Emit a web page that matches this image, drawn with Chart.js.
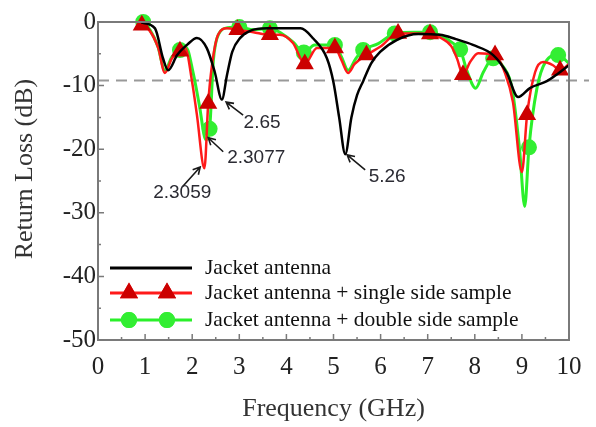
<!DOCTYPE html>
<html>
<head>
<meta charset="utf-8">
<script src="https://cdn.jsdelivr.net/npm/chart.js@4.4.0/dist/chart.umd.min.js"></script>
<style>
  html, body { margin: 0; padding: 0; background: #fff; }
  canvas { display: block; }
</style>
</head>
<body>
<canvas id="rl" width="596" height="427"></canvas>
<script>
// frequency in GHz, return loss in dB
const blackFreq = [0.92, 1.21, 1.38, 1.49, 1.68, 1.89, 2.1, 2.31, 2.48, 2.63, 2.74, 2.85, 3.02, 3.23, 3.6, 4.3, 4.57, 4.86, 5.0, 5.12, 5.25, 5.38, 5.5, 5.63, 5.8, 5.99, 6.35, 6.8, 7.26, 7.6, 7.96, 8.39, 8.68, 8.92, 9.17, 9.53, 9.75, 10.0];
const blackDb = [-0.1, -1.0, -5.7, -7.6, -5.2, -3.6, -2.5, -4.1, -7.9, -12.2, -8.3, -4.7, -2.5, -1.4, -1.0, -1.0, -2.6, -5.7, -9.5, -15, -20.8, -15, -11.5, -9.3, -6.5, -4.7, -2.8, -1.9, -2.0, -2.7, -3.6, -5.2, -8.0, -11.8, -10.4, -9.3, -8.2, -6.8];

const redFreq = [0.93, 1.08, 1.28, 1.42, 1.57, 1.74, 1.85, 2.0, 2.1, 2.26, 2.34, 2.42, 2.55, 2.74, 2.96, 3.3, 3.65, 3.86, 4.14, 4.39, 4.65, 5.03, 5.17, 5.31, 5.45, 5.7, 5.99, 6.37, 6.7, 7.05, 7.3, 7.5, 7.62, 7.75, 7.9, 8.07, 8.43, 8.64, 8.81, 9.0, 9.11, 9.28, 9.45, 9.66, 9.81, 10.0];
const redDb = [-0.5, -1.2, -4.1, -8.0, -5.7, -4.6, -4.1, -9.5, -14.6, -23, -12.8, -6.8, -2.0, -1.0, -1.2, -1.6, -2.0, -2.0, -3.3, -6.6, -4.1, -4.1, -6, -8.0, -6.6, -5.2, -3.9, -1.8, -1.8, -1.9, -2.6, -3.8, -5.7, -8.3, -6.3, -4.9, -5.2, -8.0, -12.6, -23.6, -14.6, -7.9, -6.3, -6.8, -7.6, -6.6];
const redMarkers = [0.93, 1.74, 2.34, 2.96, 3.65, 4.39, 5.03, 5.7, 6.37, 7.05, 7.75, 8.43, 9.11, 9.81];

const greenFreq = [0.96, 1.1, 1.27, 1.42, 1.57, 1.74, 1.87, 2.02, 2.15, 2.29, 2.37, 2.45, 2.57, 2.75, 3.0, 3.3, 3.65, 3.9, 4.15, 4.37, 4.6, 5.03, 5.17, 5.31, 5.47, 5.63, 5.95, 6.3, 6.7, 7.05, 7.35, 7.55, 7.69, 7.83, 8.02, 8.18, 8.39, 8.6, 8.79, 8.95, 9.06, 9.15, 9.32, 9.5, 9.77, 10.0];
const greenDb = [0, -1.2, -3.8, -7.6, -5.5, -4.4, -4.0, -8, -13, -18.5, -16.8, -6, -1.8, -0.9, -0.8, -1.2, -1.0, -1.8, -3.2, -4.8, -3.6, -3.6, -5.5, -7.6, -5.8, -4.4, -3.4, -1.8, -1.6, -1.6, -2.4, -3.4, -4.3, -7.6, -10.4, -7.9, -5.7, -7, -10.4, -20, -29, -19.7, -10.4, -6.3, -5.2, -6.5];
const greenMarkers = [0.96, 1.74, 2.37, 3.0, 3.65, 4.37, 5.03, 5.63, 6.3, 7.05, 7.69, 8.39, 9.15, 9.77];

const seriesNames = ['Jacket antenna', 'Jacket antenna + single side sample', 'Jacket antenna + double side sample'];
const xTicks = [0, 1, 2, 3, 4, 5, 6, 7, 8, 9, 10];
const yTicks = [0, -10, -20, -30, -40, -50];
const thresholdDb = -9.2;

const peakLabels = ['2.65', '2.3077', '2.3059', '5.26'];
const peakFreq = [2.72, 2.34, 2.17, 5.29];
const peakDb = [-12.6, -18.2, -22.8, -20.9];

const toPoints = (xs, ys) => xs.map((x, i) => ({ x: x, y: ys[i] }));

const serif = '"Liberation Serif", "Times New Roman", serif';
const sans = '"Liberation Sans", Arial, sans-serif';

// tail / text offsets (px) for the peak callouts
const calloutOffsets = [
  [17, 13, 36, 21],
  [15, 14, 48, 20],
  [-18, 20, -18, 26],
  [18, 15, 40, 22]
];

const extras = {
  id: 'extras',
  beforeDatasetsDraw(chart) {
    const { ctx, chartArea: a, scales } = chart;
    const y = scales.y.getPixelForValue(thresholdDb);
    ctx.save();
    ctx.strokeStyle = '#999';
    ctx.lineWidth = 2;
    ctx.setLineDash([11, 7]);
    ctx.beginPath();
    ctx.moveTo(a.left, y);
    ctx.lineTo(a.right + 20, y);
    ctx.stroke();
    ctx.restore();
  },
  afterDraw(chart) {
    const { ctx, chartArea: a, scales } = chart;
    ctx.save();
    // frame
    ctx.strokeStyle = '#7a7a7a';
    ctx.lineWidth = 2;
    ctx.strokeRect(a.left, a.top, a.right - a.left, a.bottom - a.top);
    // inward ticks
    ctx.lineWidth = 1.5;
    ctx.beginPath();
    for (let v = 0; v <= 10; v += 0.5) {
      const px = scales.x.getPixelForValue(v);
      const len = Number.isInteger(v) ? 6 : 3;
      ctx.moveTo(px, a.bottom);
      ctx.lineTo(px, a.bottom - len);
    }
    for (let v = 0; v >= -50; v -= 5) {
      const py = scales.y.getPixelForValue(v);
      const len = v % 10 === 0 ? 6 : 3;
      ctx.moveTo(a.left, py);
      ctx.lineTo(a.left + len, py);
    }
    ctx.stroke();

    // y axis title, sits a bit above the middle of the axis
    ctx.save();
    ctx.translate(25, (a.top + a.bottom) / 2 - 12);
    ctx.rotate(-Math.PI / 2);
    ctx.fillStyle = '#333';
    ctx.font = '26px ' + serif;
    ctx.textAlign = 'center';
    ctx.textBaseline = 'middle';
    ctx.fillText('Return Loss (dB)', 0, 0);
    ctx.restore();

    // callouts
    ctx.strokeStyle = '#1a1a1a';
    ctx.fillStyle = '#2b2b33';
    ctx.lineWidth = 1.6;
    ctx.font = '19px ' + sans;
    ctx.textAlign = 'center';
    ctx.textBaseline = 'middle';
    peakLabels.forEach((lab, i) => {
      const tx = scales.x.getPixelForValue(peakFreq[i]);
      const ty = scales.y.getPixelForValue(peakDb[i]);
      const o = calloutOffsets[i];
      const sx = tx + o[0], sy = ty + o[1];
      const ang = Math.atan2(ty - sy, tx - sx);
      ctx.beginPath();
      ctx.moveTo(sx, sy);
      ctx.lineTo(tx, ty);
      ctx.moveTo(tx - 8 * Math.cos(ang - 0.5), ty - 8 * Math.sin(ang - 0.5));
      ctx.lineTo(tx, ty);
      ctx.lineTo(tx - 8 * Math.cos(ang + 0.5), ty - 8 * Math.sin(ang + 0.5));
      ctx.stroke();
      ctx.fillText(lab, tx + o[2], ty + o[3]);
    });

    // legend
    const rows = [a.bottom - 72, a.bottom - 47, a.bottom - 20];
    const x0 = a.left + 12, x1 = a.left + 94;
    ctx.textAlign = 'left';
    ctx.font = '21.5px ' + serif;
    chart.data.datasets.forEach((ds, i) => {
      const ry = rows[i];
      ctx.strokeStyle = ds.borderColor;
      ctx.lineWidth = 3;
      ctx.beginPath();
      ctx.moveTo(x0, ry);
      ctx.lineTo(x1, ry);
      ctx.stroke();
      if (ds.markerStyle) {
        [a.left + 31, a.left + 69].forEach(mx => {
          Chart.helpers.drawPoint(ctx, {
            pointStyle: ds.markerStyle, radius: ds.markerSize, rotation: 0, borderWidth: 1
          }, mx, ry);
          ctx.fillStyle = ds.pointBackgroundColor;
          ctx.strokeStyle = ds.pointBorderColor;
          ctx.fill();
          ctx.stroke();
        });
      }
      ctx.fillStyle = '#111';
      ctx.fillText(ds.label, a.left + 107, ry);
    });
    ctx.restore();
  }
};

new Chart(document.getElementById('rl'), {
  type: 'line',
  data: {
    datasets: [
      {
        label: seriesNames[0],
        data: toPoints(blackFreq, blackDb),
        borderColor: '#000',
        borderWidth: 2.5,
        pointRadius: 0,
        cubicInterpolationMode: 'monotone'
      },
      {
        label: seriesNames[1],
        data: toPoints(redFreq, redDb),
        borderColor: '#ff1a1a',
        borderWidth: 2.5,
        markerStyle: 'triangle',
        markerSize: 7.5,
        pointStyle: 'triangle',
        pointRadius: c => redMarkers.includes(c.raw.x) ? 8 : 0,
        pointBackgroundColor: '#cc0000',
        pointBorderColor: '#cc0000',
        cubicInterpolationMode: 'monotone',
        clip: 10
      },
      {
        label: seriesNames[2],
        data: toPoints(greenFreq, greenDb),
        borderColor: '#2af02a',
        borderWidth: 3,
        markerStyle: 'circle',
        markerSize: 6.5,
        pointStyle: 'circle',
        pointRadius: c => greenMarkers.includes(c.raw.x) ? 6.5 : 0,
        pointBackgroundColor: '#33ee33',
        pointBorderColor: '#33ee33',
        cubicInterpolationMode: 'monotone',
        clip: 10
      }
    ]
  },
  options: {
    responsive: false,
    animation: false,
    layout: { padding: { top: 22, right: 27, left: 0, bottom: 0 } },
    plugins: {
      legend: { display: false },
      tooltip: { enabled: false }
    },
    scales: {
      x: {
        type: 'linear',
        min: 0,
        max: 10,
        afterFit: s => { s.height = 87; },
        afterBuildTicks: s => { s.ticks = xTicks.map(v => ({ value: v })); },
        grid: { display: false, drawTicks: false },
        border: { display: false },
        ticks: { color: '#222', padding: 12, font: { family: serif, size: 25 } },
        title: {
          display: true,
          text: 'Frequency (GHz)',
          color: '#333',
          padding: { top: 0, bottom: 2 },
          font: { family: serif, size: 26 }
        }
      },
      y: {
        min: -50,
        max: 0,
        afterFit: s => { s.width = 98; },
        afterBuildTicks: s => { s.ticks = yTicks.map(v => ({ value: v })); },
        grid: { display: false, drawTicks: false },
        border: { display: false },
        ticks: { color: '#222', padding: 2, font: { family: serif, size: 25 } },
        title: { display: false }
      }
    }
  },
  plugins: [extras]
});
</script>
</body>
</html>
